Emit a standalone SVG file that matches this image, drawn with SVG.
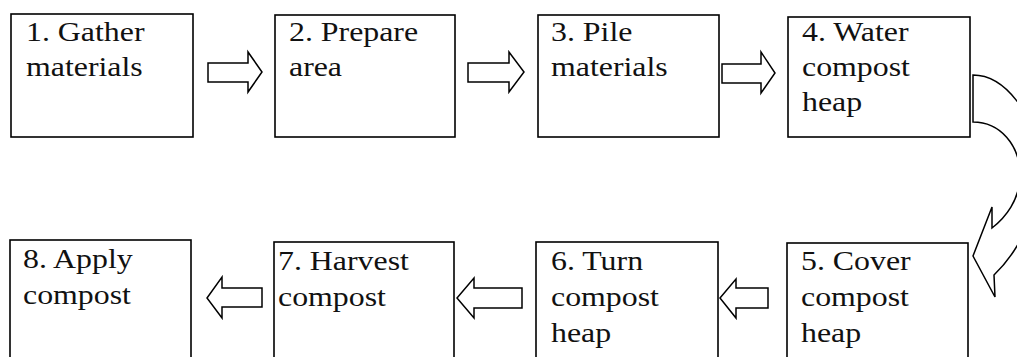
<svg xmlns="http://www.w3.org/2000/svg" width="1017" height="357" viewBox="0 0 1017 357">
<style>
.box{fill:#fff;stroke:#000;stroke-width:1.6}
.lbl{font-family:"Liberation Serif","Times New Roman",serif;font-size:27px;fill:#111}
.arr{fill:#fff;stroke:#000;stroke-width:1.5;stroke-linejoin:miter}
</style>
<rect width="1017" height="357" fill="#fff"/>
<g id="node1">
<rect class="box" x="11" y="14" width="182" height="123"/>
<text class="lbl" transform="translate(26,41) scale(1.18,1)"><tspan x="0">1. Gather</tspan><tspan x="0" dy="35">materials</tspan></text>
</g>
<g id="node2">
<rect class="box" x="275" y="15" width="180" height="122"/>
<text class="lbl" transform="translate(289,41) scale(1.18,1)"><tspan x="0">2. Prepare</tspan><tspan x="0" dy="35">area</tspan></text>
</g>
<g id="node3">
<rect class="box" x="538" y="15" width="181" height="122"/>
<text class="lbl" transform="translate(551,41) scale(1.18,1)"><tspan x="0">3. Pile</tspan><tspan x="0" dy="35">materials</tspan></text>
</g>
<g id="node4">
<rect class="box" x="788" y="17" width="182" height="120"/>
<text class="lbl" transform="translate(802,41) scale(1.18,1)"><tspan x="0">4. Water</tspan><tspan x="0" dy="35">compost</tspan><tspan x="0" dy="35">heap</tspan></text>
</g>
<g id="node5">
<rect class="box" x="787" y="243" width="181" height="130"/>
<text class="lbl" transform="translate(801,270) scale(1.18,1)"><tspan x="0">5. Cover</tspan><tspan x="0" dy="36">compost</tspan><tspan x="0" dy="36">heap</tspan></text>
</g>
<g id="node6">
<rect class="box" x="536" y="242" width="182" height="130"/>
<text class="lbl" transform="translate(551,270) scale(1.18,1)"><tspan x="0">6. Turn</tspan><tspan x="0" dy="36">compost</tspan><tspan x="0" dy="36">heap</tspan></text>
</g>
<g id="node7">
<rect class="box" x="274" y="242" width="180" height="130"/>
<text class="lbl" transform="translate(278,270) scale(1.18,1)"><tspan x="0">7. Harvest</tspan><tspan x="0" dy="36">compost</tspan></text>
</g>
<g id="node8">
<rect class="box" x="10" y="240" width="181" height="132"/>
<text class="lbl" transform="translate(23,268) scale(1.18,1)"><tspan x="0">8. Apply</tspan><tspan x="0" dy="36">compost</tspan></text>
</g>
<g id="connectors">
<path class="arr" d="M208,63 H248 V52 L262,72 L248,92 V82 H208 Z"/>
<path class="arr" d="M468,63 H509 V52 L524,72 L509,92 V82 H468 Z"/>
<path class="arr" d="M722,64 H761 V52 L775,73 L761,93 V83 H722 Z"/>
<path class="arr" d="M973,75 C1005,75 1035,115 1040,160 C1040,210 1020,250 994,275 L995,297 L973,256 L992,207 L992,228 C1005,218 1020,200 1020,175 C1020,145 1000,122 973,122 Z"/>
<path class="arr" d="M768,288 H736 V279 L720,298 L736,318 V308 H768 Z"/>
<path class="arr" d="M522,288 H474 V278 L457,298 L474,318 V308 H522 Z"/>
<path class="arr" d="M262,288 H222 V277 L207,298 L222,318 V307 H262 Z"/>
</g>
</svg>
